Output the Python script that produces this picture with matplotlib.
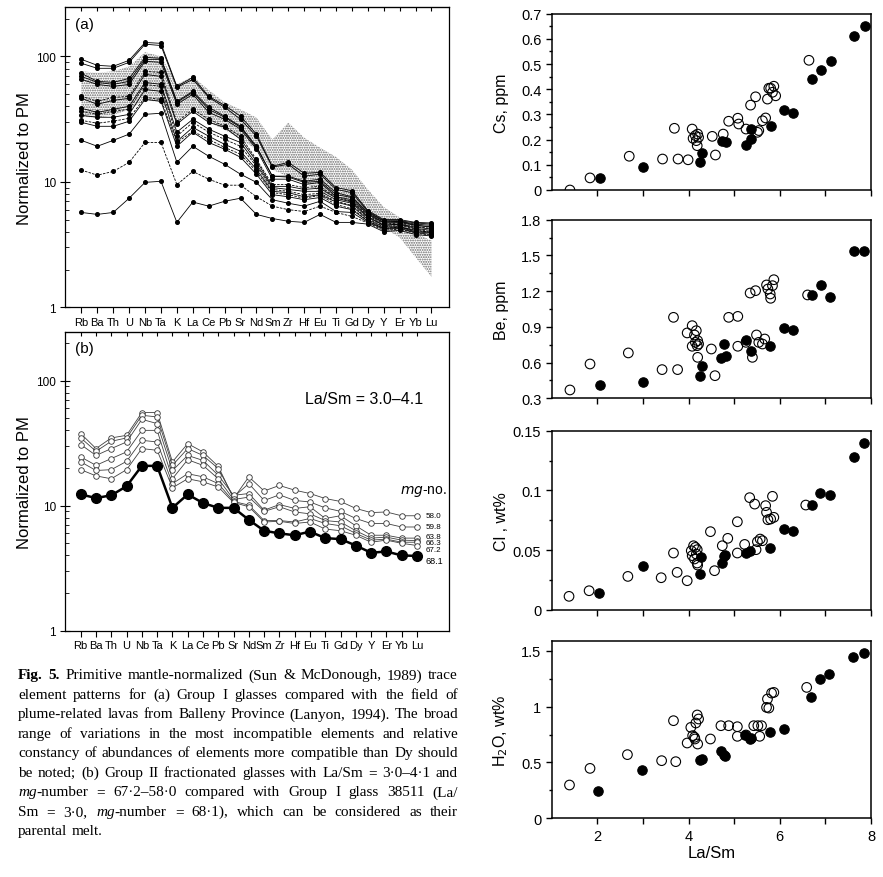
import matplotlib
matplotlib.use("Agg")
import matplotlib.pyplot as plt
from matplotlib.ticker import FixedLocator, NullFormatter, LogLocator

plt.rcParams['font.family'] = ['Liberation Sans', 'DejaVu Sans']
plt.rcParams['hatch.linewidth'] = 0.9

W, H = 883, 878

ELEMENTS = ["Rb", "Ba", "Th", "U", "Nb", "Ta", "K", "La", "Ce", "Pb", "Sr", "Nd",
            "Sm", "Zr", "Hf", "Eu", "Ti", "Gd", "Dy", "Y", "Er", "Yb", "Lu"]

# (a) Group I glasses, primitive-mantle normalized
group1 = [
    [94.7, 84.8, 83.3, 93.0, 129, 127, 57.6, 68.0, 48.0, 40.7, 33.3, 24.0, 13.3, 14.3, 11.7, 11.9, 9.0, 8.5, 5.9, 5.0, 5.0, 4.75, 4.7],
    [88.0, 80.3, 80.3, 89.6, 125, 122, 56.6, 65.5, 47.1, 39.3, 31.5, 23.1, 13.1, 13.8, 11.1, 11.5, 8.7, 8.2, 5.8, 4.9, 4.9, 4.7, 4.6],
    [73.1, 63.2, 62.0, 66.7, 98.2, 96.4, 43.8, 52.6, 39.3, 33.3, 27.7, 19.2, 11.1, 11.1, 10.1, 10.5, 8.2, 7.6, 5.7, 4.85, 4.85, 4.6, 4.5],
    [69.2, 62.0, 59.8, 63.2, 94.7, 94.7, 43.0, 51.6, 37.8, 32.7, 27.2, 18.8, 11.1, 10.9, 9.9, 10.1, 7.9, 7.5, 5.6, 4.75, 4.85, 4.5, 4.4],
    [65.5, 59.8, 57.6, 59.8, 91.3, 89.6, 41.5, 49.8, 35.8, 31.5, 26.3, 18.2, 10.5, 10.5, 9.5, 9.9, 7.6, 7.2, 5.5, 4.7, 4.75, 4.5, 4.35],
    [48.0, 43.8, 47.1, 48.0, 75.8, 74.4, 29.8, 37.8, 31.5, 27.7, 23.1, 15.1, 9.5, 9.5, 9.0, 9.2, 7.5, 7.0, 5.4, 4.6, 4.7, 4.4, 4.25],
    [46.3, 41.5, 44.6, 46.3, 71.8, 69.2, 28.8, 36.5, 29.8, 27.2, 21.8, 14.6, 9.2, 9.2, 8.7, 8.9, 7.4, 6.9, 5.3, 4.5, 4.6, 4.35, 4.2],
    [38.5, 35.8, 37.8, 40.0, 62.0, 59.8, 24.9, 31.5, 26.3, 23.1, 20.6, 13.8, 9.0, 8.7, 8.4, 8.4, 7.2, 6.75, 5.2, 4.5, 4.6, 4.25, 4.1],
    [36.5, 34.5, 36.5, 37.8, 59.8, 57.6, 23.1, 29.8, 24.9, 21.8, 19.2, 13.3, 8.7, 8.4, 7.9, 8.1, 7.0, 6.5, 5.1, 4.4, 4.5, 4.2, 4.0],
    [33.9, 32.7, 32.7, 34.5, 54.5, 52.6, 21.0, 27.2, 23.1, 19.9, 17.5, 12.6, 8.4, 8.2, 7.6, 7.9, 6.9, 6.4, 5.0, 4.35, 4.4, 4.1, 3.95],
    [30.9, 29.3, 30.4, 32.1, 47.1, 45.4, 20.6, 25.3, 21.8, 18.8, 16.6, 12.1, 8.2, 7.9, 7.4, 7.8, 6.6, 6.1, 4.9, 4.25, 4.35, 4.1, 3.95],
    [29.8, 27.7, 27.7, 30.4, 45.4, 43.8, 19.2, 24.9, 20.6, 18.2, 15.7, 11.5, 7.9, 7.6, 7.2, 7.5, 6.4, 6.0, 4.85, 4.25, 4.35, 4.0, 3.9],
    [21.4, 19.2, 21.4, 24.0, 34.5, 35.2, 14.3, 19.2, 16.0, 13.8, 11.5, 9.9, 7.2, 6.75, 6.4, 7.0, 5.8, 5.7, 4.75, 4.2, 4.25, 3.95, 3.8],
    [12.4, 11.3, 12.1, 14.3, 20.6, 20.6, 9.5, 12.1, 10.5, 9.4, 9.4, 7.6, 6.4, 6.0, 5.8, 6.4, 5.7, 5.3, 4.7, 4.1, 4.2, 3.9, 3.75],
    [5.7, 5.5, 5.7, 7.4, 9.9, 10.1, 4.75, 6.9, 6.4, 7.0, 7.4, 5.5, 5.1, 4.85, 4.75, 5.5, 4.75, 4.75, 4.6, 4.0, 4.1, 3.8, 3.7],
]
group1_dashed = [5, 8, 10, 13]

# field of plume-related lavas, Balleny Province
field_upper = [76, 74, 76, 83, 108, 100, 60, 69, 54, 43, 37.7, 32.5, 21.7, 29.6, 22.5, 18.7, 15.8, 12.5, 8.7, 6.3, 5.2, 3.9, 3.4]
field_lower = [33, 32.5, 34, 37.7, 45, 43, 30, 38, 30, 26, 22, 18, 12.5, 11, 10, 8.2, 7.6, 6.8, 5.6, 4.3, 3.6, 2.5, 1.75]

# (b) Group II fractionated glasses and parental glass 38511
group2 = [
    [37.7, 28.6, 34.8, 36.5, 55.5, 55.5, 22.4, 31.3, 26.9, 20.6, 11.4, 17.0, 13.1, 14.5, 13.3, 12.5, 11.4, 10.8, 9.5, 8.8, 8.9, 8.3, 8.3],
    [34.8, 27.2, 32.7, 34.8, 52.8, 51.2, 21.0, 28.6, 25.2, 19.8, 11.7, 15.0, 11.0, 12.2, 11.0, 10.7, 9.6, 9.0, 7.9, 7.2, 7.2, 6.75, 6.75],
    [30.8, 25.2, 28.6, 32.3, 49.0, 45.3, 19.1, 25.2, 23.0, 17.5, 12.1, 12.5, 9.2, 10.2, 9.5, 9.8, 7.9, 8.3, 6.9, 5.8, 5.8, 5.5, 5.5],
    [24.5, 21.0, 23.8, 26.9, 40.0, 40.0, 16.4, 23.3, 21.0, 16.4, 11.2, 11.7, 9.0, 9.8, 8.9, 8.6, 7.6, 7.4, 6.3, 5.5, 5.6, 5.3, 5.25],
    [22.4, 19.1, 19.4, 22.6, 33.3, 32.3, 15.0, 18.0, 17.0, 15.0, 10.8, 10.1, 7.6, 7.6, 7.4, 7.9, 7.2, 6.9, 6.0, 5.3, 5.4, 5.1, 5.1],
    [19.4, 17.3, 16.4, 19.4, 28.6, 27.7, 13.9, 16.4, 15.5, 14.1, 10.6, 9.8, 7.4, 7.5, 7.2, 7.4, 6.5, 6.3, 5.8, 5.1, 5.3, 5.0, 4.8],
]
glass_38511 = [12.3, 11.5, 12.1, 14.3, 20.8, 20.8, 9.6, 12.3, 10.5, 9.6, 9.6, 7.7, 6.3, 6.0, 5.8, 6.2, 5.5, 5.4, 4.8, 4.2, 4.3, 4.0, 3.96]
mg_labels = ["58.0", "59.8", "63.8", "66.3", "67.2", "68.1"]
mg_label_y = [8.3, 6.8, 5.65, 5.05, 4.5, 3.65]

# right-hand panels: La/Sm vs volatile / trace element contents
cs_open_lasm = [1.40, 1.84, 2.70, 3.43, 3.69, 3.77, 3.99, 4.08, 4.10, 4.15, 4.17, 4.19, 4.20, 4.22, 4.52, 4.59, 4.76,
                4.88, 5.08, 5.10, 5.26, 5.36, 5.47, 5.51, 5.54, 5.62, 5.69, 5.73, 5.76, 5.80, 5.84, 5.87, 5.91, 6.64]
cs_open = [0.0, 0.048, 0.134, 0.123, 0.245, 0.123, 0.120, 0.242, 0.205, 0.216, 0.196, 0.176, 0.222, 0.209, 0.213, 0.139, 0.222,
           0.273, 0.285, 0.262, 0.242, 0.337, 0.370, 0.229, 0.236, 0.275, 0.286, 0.361, 0.404, 0.404, 0.388, 0.412, 0.374, 0.515]
cs_filled_lasm = [2.06, 3.01, 4.26, 4.30, 4.74, 4.83, 5.27, 5.36, 5.38, 5.80, 6.09, 6.30, 6.70, 6.90, 7.12, 7.63, 7.87]
cs_filled = [0.046, 0.093, 0.112, 0.146, 0.196, 0.189, 0.180, 0.202, 0.242, 0.253, 0.319, 0.306, 0.44, 0.478, 0.513, 0.61, 0.652]

be_open_lasm = [1.40, 1.84, 2.68, 3.42, 3.67, 3.76, 3.97, 4.08, 4.08, 4.13, 4.15, 4.17, 4.19, 4.20, 4.20, 4.22, 4.50, 4.58,
                4.88, 5.08, 5.08, 5.26, 5.35, 5.40, 5.47, 5.49, 5.54, 5.62, 5.67, 5.71, 5.74, 5.79, 5.80, 5.84, 5.87, 6.61]
be_open = [0.370, 0.588, 0.681, 0.541, 0.980, 0.541, 0.849, 0.910, 0.737, 0.832, 0.770, 0.868, 0.742, 0.784, 0.644, 0.756, 0.714, 0.490,
           0.980, 0.988, 0.737, 0.770, 1.184, 0.644, 1.204, 0.832, 0.770, 0.756, 0.798, 1.252, 1.218, 1.176, 1.140, 1.246, 1.296, 1.168]
be_filled_lasm = [2.06, 3.01, 4.26, 4.30, 4.71, 4.77, 4.82, 5.25, 5.36, 5.79, 6.09, 6.30, 6.70, 6.90, 7.11, 7.63, 7.85]
be_filled = [0.412, 0.434, 0.485, 0.574, 0.639, 0.756, 0.658, 0.793, 0.700, 0.737, 0.888, 0.877, 1.168, 1.252, 1.154, 1.540, 1.534]

cl_open_lasm = [1.38, 1.82, 2.67, 3.40, 3.67, 3.75, 3.97, 4.06, 4.08, 4.11, 4.13, 4.15, 4.17, 4.19, 4.19, 4.20, 4.48, 4.57,
                4.74, 4.86, 5.07, 5.07, 5.23, 5.34, 5.45, 5.48, 5.51, 5.57, 5.62, 5.69, 5.71, 5.74, 5.80, 5.84, 5.87, 6.57]
cl_open = [0.0112, 0.0159, 0.0279, 0.0268, 0.0475, 0.0313, 0.0243, 0.0494, 0.0453, 0.0536, 0.0425, 0.0522, 0.0466, 0.0503, 0.0391,
           0.0374, 0.0654, 0.0327, 0.0536, 0.0598, 0.0737, 0.0475, 0.0547, 0.0939, 0.0885, 0.0503, 0.0570, 0.0592, 0.0578, 0.0872,
           0.0816, 0.0754, 0.0760, 0.0950, 0.0774, 0.0877]
cl_filled_lasm = [2.04, 3.00, 4.25, 4.28, 4.74, 4.77, 4.81, 5.25, 5.34, 5.79, 6.09, 6.29, 6.70, 6.89, 7.10, 7.62, 7.85]
cl_filled = [0.0140, 0.0369, 0.0299, 0.0439, 0.0391, 0.0447, 0.0458, 0.0475, 0.0494, 0.0514, 0.0676, 0.0662, 0.0877, 0.0978,
             0.0961, 0.1277, 0.1397]

h2o_open_lasm = [1.39, 1.84, 2.66, 3.41, 3.67, 3.72, 3.97, 4.05, 4.09, 4.13, 4.14, 4.16, 4.19, 4.20, 4.22, 4.48, 4.71, 4.88,
                 5.07, 5.07, 5.26, 5.43, 5.52, 5.56, 5.60, 5.71, 5.73, 5.76, 5.82, 5.87, 6.59]
h2o_open = [0.298, 0.447, 0.570, 0.516, 0.874, 0.507, 0.674, 0.814, 0.740, 0.725, 0.710, 0.853, 0.925, 0.665, 0.889, 0.710, 0.829,
            0.829, 0.820, 0.734, 0.746, 0.829, 0.829, 0.734, 0.829, 0.993, 1.068, 0.987, 1.121, 1.127, 1.172]
h2o_filled_lasm = [2.01, 2.98, 4.26, 4.29, 4.71, 4.77, 4.79, 5.24, 5.34, 5.37, 5.78, 6.09, 6.68, 6.88, 7.08, 7.60, 7.85]
h2o_filled = [0.248, 0.435, 0.522, 0.531, 0.605, 0.567, 0.561, 0.746, 0.710, 0.716, 0.775, 0.799, 1.089, 1.247, 1.291, 1.446, 1.479]

caption_lines = [
    "^Fig. 5.^ Primitive mantle-normalized (Sun & McDonough, 1989) trace",
    "element patterns for (a) Group I glasses compared with the field of",
    "plume-related lavas from Balleny Province (Lanyon, 1994). The broad",
    "range of variations in the most incompatible elements and relative",
    "constancy of abundances of elements more compatible than Dy should",
    "be noted; (b) Group II fractionated glasses with La/Sm = 3·0–4·1 and",
    "~mg~-number = 67·2–58·0 compared with Group I glass 38511 (La/",
    "Sm = 3·0, ~mg~-number = 68·1), which can be considered as their",
    "parental melt.",
]


def box(left, top, right, bottom):
    return [left / W, 1 - bottom / H, (right - left) / W, (bottom - top) / H]


def spider_axes(ax, xmax):
    ax.set_yscale('log')
    ax.set_ylim(1, 246)
    ax.set_xlim(-1.03, xmax)
    ax.yaxis.set_major_locator(FixedLocator([1, 10, 100]))
    ax.set_yticklabels(["1", "10", "100"])
    ax.yaxis.set_minor_locator(LogLocator(base=10, subs=range(2, 10)))
    ax.yaxis.set_minor_formatter(NullFormatter())
    ax.tick_params(axis='y', which='major', direction='inout', length=7, width=0.8, labelsize=8.5, pad=3)
    ax.tick_params(axis='y', which='minor', direction='in', length=3, width=0.6)
    ax.set_xticks(range(len(ELEMENTS)))
    ax.set_xticklabels(ELEMENTS, fontsize=8)
    ax.tick_params(axis='x', direction='out', length=4, width=0.8, pad=3)
    top = ax.secondary_xaxis('top')
    top.set_xticks(range(len(ELEMENTS)))
    top.tick_params(direction='in', length=3, width=0.8, labeltop=False)
    for s in ax.spines.values():
        s.set_linewidth(0.9)
    ax.set_ylabel("Normalized to PM", fontsize=12, labelpad=3)


fig = plt.figure(figsize=(W / 100, H / 100), dpi=100)
x = list(range(len(ELEMENTS)))

# ---- (a)
ax_a = fig.add_axes(box(65, 8.3, 449, 308.3))
ax_a.fill_between(x, field_lower, field_upper, facecolor='white', edgecolor='0.4', hatch='.......', linewidth=0, zorder=1)
for i, vals in enumerate(group1):
    ls = (0, (3, 1.5)) if i in group1_dashed else '-'
    ax_a.plot(x, vals, color='black', lw=0.6, ls=ls, marker='o', ms=2.6, mfc='black', mec='black', zorder=3)
spider_axes(ax_a, 23.1)
ax_a.text(0.026, 0.945, "(a)", transform=ax_a.transAxes, fontsize=11, va='center', ha='left')

# ---- (b)
ax_b = fig.add_axes(box(65, 332.7, 449, 631.7))
for vals in group2:
    ax_b.plot(x, vals, color='0.25', lw=0.6, marker='o', ms=4, mfc='white', mec='0.2', mew=0.6, zorder=3)
ax_b.plot(x, glass_38511, color='black', lw=1.8, marker='o', ms=7, mfc='black', mec='black', zorder=4)
spider_axes(ax_b, 24.1)
ax_b.text(0.026, 0.945, "(b)", transform=ax_b.transAxes, fontsize=11, va='center', ha='left')
ax_b.text(14.7, 72, "La/Sm = 3.0–4.1", fontsize=11.5, va='center', ha='left')
ax_b.text(20.9, 13.2, r"$\it{mg}$-no.", fontsize=10, va='center', ha='left')
for lab, yv in zip(mg_labels, mg_label_y):
    ax_b.text(22.55, yv, lab, fontsize=6.5 if lab == "68.1" else 5.8, va='center', ha='left')

# ---- right-hand scatter panels
panels = [
    (box(551.7, 14.7, 871, 191), cs_open_lasm, cs_open, cs_filled_lasm, cs_filled,
     (0, 0.7), [0, 0.1, 0.2, 0.3, 0.4, 0.5, 0.6, 0.7], ["0", "0.1", "0.2", "0.3", "0.4", "0.5", "0.6", "0.7"], 0.05, "Cs, ppm"),
    (box(551.7, 220.7, 871, 399.3), be_open_lasm, be_open, be_filled_lasm, be_filled,
     (0.3, 1.8), [0.3, 0.6, 0.9, 1.2, 1.5, 1.8], ["0.3", "0.6", "0.9", "1.2", "1.5", "1.8"], 0.15, "Be, ppm"),
    (box(551.7, 431.7, 871, 610.7), cl_open_lasm, cl_open, cl_filled_lasm, cl_filled,
     (0, 0.15), [0, 0.05, 0.1, 0.15], ["0", "0.05", "0.1", "0.15"], 0.025, "Cl , wt%"),
    (box(551.7, 641.7, 871, 819.3), h2o_open_lasm, h2o_open, h2o_filled_lasm, h2o_filled,
     (0, 1.59), [0, 0.5, 1, 1.5], ["0", "0.5", "1", "1.5"], 0.25, "H$_2$O, wt%"),
]
for k, (rect, xo, yo, xf, yf, ylim, yt, ytl, ymin, ylab) in enumerate(panels):
    ax = fig.add_axes(rect)
    ax.scatter(xo, yo, s=48, facecolors='none', edgecolors='black', linewidths=0.8, zorder=3)
    ax.scatter(xf, yf, s=46, facecolors='black', edgecolors='black', linewidths=0.8, zorder=4)
    ax.set_xlim(1, 8)
    ax.set_ylim(*ylim)
    ax.set_yticks(yt)
    ax.set_yticklabels(ytl)
    minors = []
    v = ylim[0] + ymin
    while v < ylim[1]:
        minors.append(v)
        v += 2 * ymin
    ax.yaxis.set_minor_locator(FixedLocator(minors))
    ax.set_xticks([2, 4, 6, 8])
    ax.xaxis.set_minor_locator(FixedLocator([3, 5, 7]))
    ax.tick_params(axis='both', which='major', direction='out', length=4, width=1.0, labelsize=10.5)
    ax.tick_params(axis='both', which='minor', direction='out', length=4, width=1.0)
    ax.tick_params(axis='y', which='minor', length=2.5)
    if k < 3:
        ax.tick_params(axis='x', labelbottom=False)
    else:
        ax.set_xlabel("La/Sm", fontsize=12, labelpad=2)
    for s in ax.spines.values():
        s.set_linewidth(1.1)
    fig.text(501 / W, rect[1] + rect[3] / 2, ylab, rotation=90, ha='center', va='center', fontsize=11.5)

# ---- caption, justified line by line
renderer = fig.canvas.get_renderer()


def parse_words(line):
    words = []
    bold = italic = False
    for raw in line.split(' '):
        segs, buf = [], ''
        for ch in raw:
            if ch in '^~':
                if buf:
                    segs.append((buf, bold, italic))
                    buf = ''
                if ch == '^':
                    bold = not bold
                else:
                    italic = not italic
            else:
                buf += ch
        if buf:
            segs.append((buf, bold, italic))
        words.append(segs)
    return words


x_left, x_right = 18, 458
for i, line in enumerate(caption_lines):
    y = 1 - (676 + 19.5 * i) / H
    items = []
    for segs in parse_words(line):
        ts = []
        for s, b, it in segs:
            t = fig.text(0, y, s, fontsize=11, family=['Liberation Serif', 'DejaVu Serif'],
                         weight='bold' if b else 'normal', style='italic' if it else 'normal', va='center')
            ts.append((t, t.get_window_extent(renderer).width))
        items.append(ts)
    widths = [sum(w for _, w in ts) for ts in items]
    if i < len(caption_lines) - 1:
        gap = (x_right - x_left - sum(widths)) / (len(items) - 1)
    else:
        gap = 4
    xp = x_left
    for ts in items:
        for t, w in ts:
            t.set_x(xp / W)
            xp += w
        xp += gap

fig.savefig("out.png", dpi=100)
